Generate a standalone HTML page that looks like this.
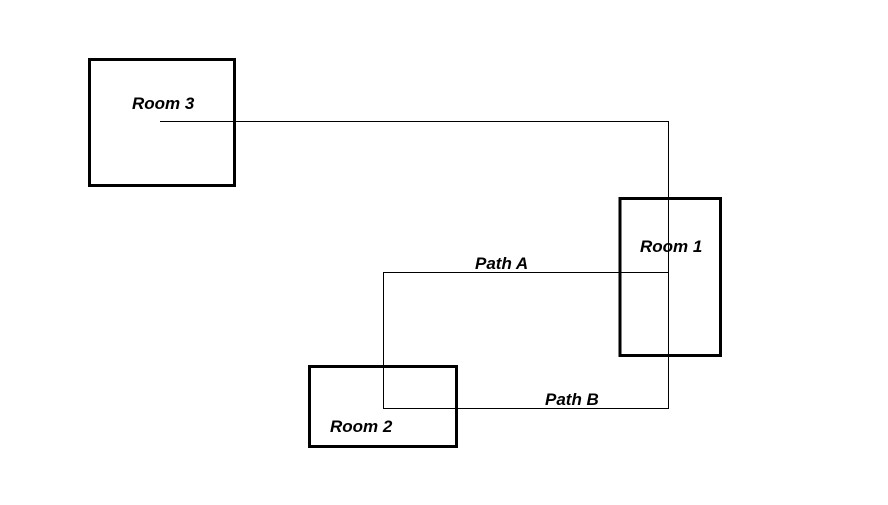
<!DOCTYPE html>
<html><head><style>
body{margin:0;width:888px;height:500px;background:#fff;overflow:hidden}
</style></head><body>
<svg width="888" height="500" xmlns="http://www.w3.org/2000/svg">
<g fill="none" stroke="#000">
<rect x="89.5" y="59.5" width="145" height="126" stroke-width="3"/>
<rect x="620" y="198.5" width="100.5" height="157" stroke-width="3"/>
<rect x="309.5" y="366.5" width="147" height="80" stroke-width="3"/>
<polyline points="160,121.5 668.5,121.5 668.5,408.5 383.5,408.5 383.5,272.5 668.5,272.5" stroke-width="1"/>
</g>
<g font-family="Liberation Sans, sans-serif" font-weight="bold" font-style="italic" font-size="17" fill="#000">
<text x="132" y="109">Room 3</text>
<text x="640" y="252">Room 1</text>
<text x="330" y="432">Room 2</text>
<text x="475" y="269">Path A</text>
<text x="545" y="405">Path B</text>
</g>
</svg>
</body></html>
